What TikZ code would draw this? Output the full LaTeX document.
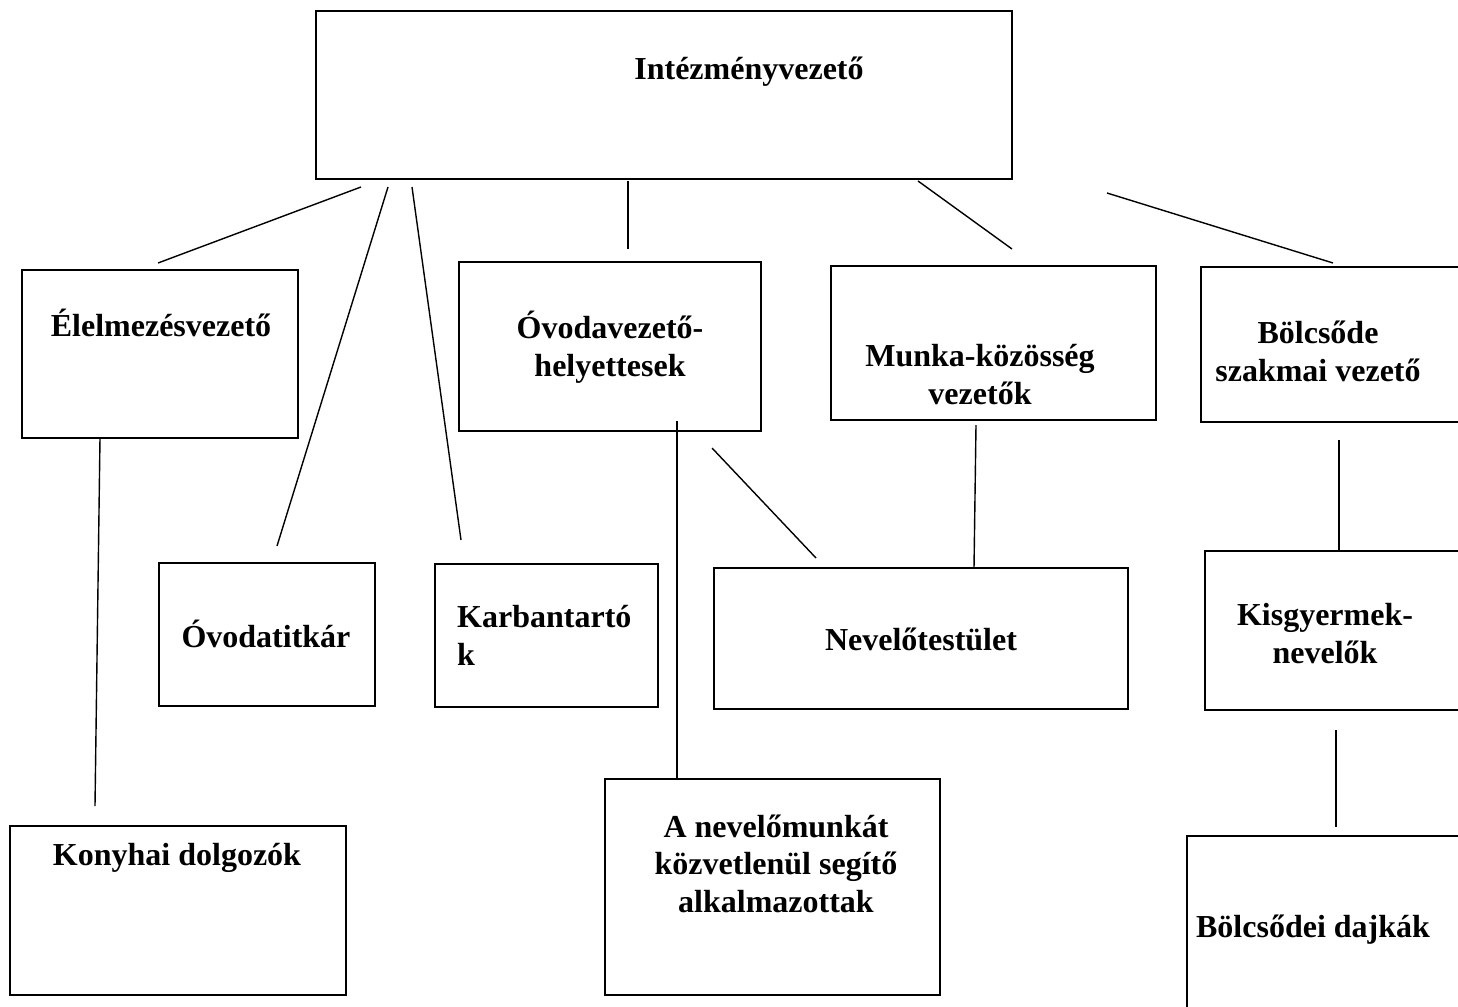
\documentclass[tikz,border=0pt]{standalone}
\usepackage{fontspec}
\setmainfont{Liberation Serif}
\usetikzlibrary{fit}
\begin{document}
\begin{tikzpicture}[x=1pt,y=-1pt,
  box/.style={draw, line width=1.8pt, rectangle, inner sep=0pt},
  lbl/.style={anchor=base, align=center, inner sep=0pt, font=\fontsize{32}{37.5}\selectfont\bfseries},
  conn/.style={line width=1.4pt}]
\useasboundingbox (0,0) rectangle (1458,1006);
\clip (0,0) rectangle (1458,1006);
% boxes
\node[box, fit={(316,11) (1012,179)}] (top) {};
\node[box, fit={(22,270) (298,438)}] (elel) {};
\node[box, fit={(459,262) (761,431)}] (ovh) {};
\node[box, fit={(831,266) (1156,420)}] (munka) {};
\node[box, fit={(1201,267) (1480,422)}] (bolcs) {};
\node[box, fit={(159,563) (375,706)}] (titk) {};
\node[box, fit={(435,564) (658,707)}] (karb) {};
\node[box, fit={(714,568) (1128,709)}] (nev) {};
\node[box, fit={(1205,551) (1480,710)}] (kisgy) {};
\node[box, fit={(10,826) (346,995)}] (kony) {};
\node[box, fit={(605,779) (940,995)}] (segit) {};
\node[box, fit={(1187,836) (1480,1030)}] (dajka) {};
% labels (base anchor = baseline of the last line)
\node[lbl] (t-top) at (749,80) {Intézményvezető};
\node[lbl] (t-elel) at (161,336) {Élelmezésvezető};
\node[lbl] (t-ovh) at (610,376) {Óvodavezető-\\helyettesek};
\node[lbl] (t-munka) at (980,404) {Munka-közösség\\vezetők};
\node[lbl] (t-bolcs) at (1318,381) {Bölcsőde\\szakmai vezető};
\node[lbl] (t-titk) at (266,647) {Óvodatitkár};
\node[lbl, align=left, anchor=base west] (t-karb) at (457,665) {Karbantartó\\k};
\node[lbl] (t-nev) at (921,650) {Nevelőtestület};
\node[lbl] (t-kisgy) at (1325,663) {Kisgyermek-\\nevelők};
\node[lbl] (t-kony) at (177,865) {Konyhai dolgozók};
\node[lbl] (t-segit) at (776,912) {A nevelőmunkát\\közvetlenül segítő\\alkalmazottak};
\node[lbl] (t-dajka) at (1313,937) {Bölcsődei dajkák};
% connector end points
\coordinate (c1a) at (361,187); \coordinate (c1b) at (158,263);
\coordinate (c2a) at (388,187); \coordinate (c2b) at (277,546);
\coordinate (c3a) at (412,187); \coordinate (c3b) at (461,540);
\coordinate (c4a) at (628,181); \coordinate (c4b) at (628,249);
\coordinate (c5a) at (918,181); \coordinate (c5b) at (1012,249);
\coordinate (c6a) at (1107,193); \coordinate (c6b) at (1333,263);
\coordinate (c7a) at (100,438); \coordinate (c7b) at (95,806);
\coordinate (c8a) at (677,421); \coordinate (c8b) at (677,779);
\coordinate (c9a) at (712,448); \coordinate (c9b) at (816,558);
\coordinate (c10a) at (976,425); \coordinate (c10b) at (974,568);
\coordinate (c11a) at (1339,440); \coordinate (c11b) at (1339,551);
\coordinate (c12a) at (1336,730); \coordinate (c12b) at (1336,827);
\foreach \i in {1,...,12} \draw[conn] (c\i a) -- (c\i b);
\end{tikzpicture}
\end{document}
